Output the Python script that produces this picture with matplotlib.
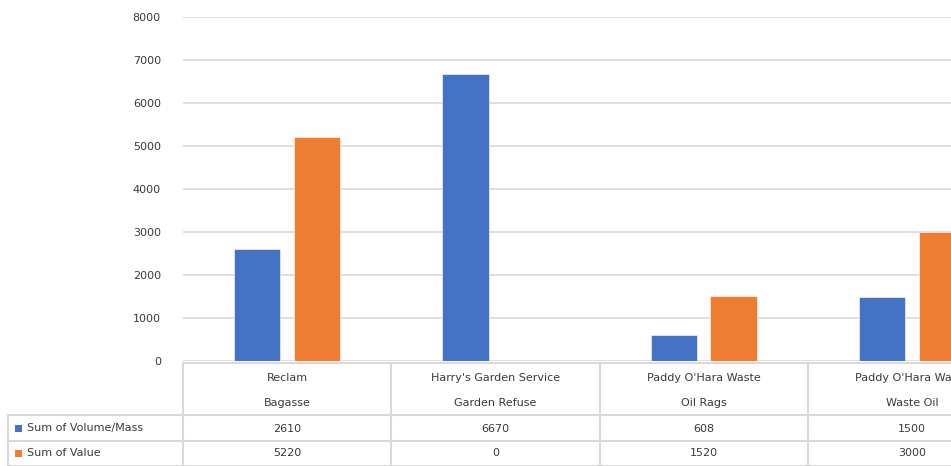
import matplotlib
matplotlib.use("Agg")
import matplotlib.pyplot as plt
import numpy as np

suppliers = ["Reclam", "Harry's Garden Service", "Paddy O'Hara Waste", "Paddy O'Hara Waste"]
materials = ["Bagasse", "Garden Refuse", "Oil Rags", "Waste Oil"]
series_names = ["Sum of Volume/Mass", "Sum of Value"]
volume_mass = [2610, 6670, 608, 1500]
value = [5220, 0, 1520, 3000]
y_ticks = [0, 1000, 2000, 3000, 4000, 5000, 6000, 7000, 8000]

BLUE = "#4472C4"
ORANGE = "#ED7D31"
GRID = "#D9D9D9"
TEXT = "#3A3A3A"
FONT = ["DejaVu Sans"]

W, H = 951, 466
fig = plt.figure(figsize=(W / 100, H / 100), dpi=100)
plt.rcParams["font.family"] = FONT

# plot area in pixels (it runs off the right edge, like the cropped original)
left_px, right_px = 183, 1016
top_px, base_px = 17, 361

ax = fig.add_axes([left_px / W, (H - base_px) / H,
                   (right_px - left_px) / W, (base_px - top_px) / H])
x = np.arange(len(materials))
bw = 0.222
off = 0.143
ax.bar(x - off, volume_mass, bw, color=BLUE, edgecolor="white", linewidth=0.4, zorder=3)
ax.bar(x + off, value, bw, color=ORANGE, edgecolor="white", linewidth=0.4, zorder=3)
ax.set_xlim(-0.5, len(materials) - 0.5)
ax.set_ylim(0, 8000)
ax.set_yticks(y_ticks)
ax.set_yticklabels([str(t) for t in y_ticks], fontsize=8, color=TEXT)
ax.tick_params(axis="y", length=0, pad=16)
ax.set_xticks([])
ax.grid(axis="y", color=GRID, linewidth=1.2, zorder=0)
for s in ax.spines.values():
    s.set_visible(False)

# data table underneath, y in pixel rows
tab = fig.add_axes([left_px / W, 0, (right_px - left_px) / W, (H - base_px) / H])
tab.set_xlim(-0.5, len(materials) - 0.5)
tab.set_ylim(H, base_px)
tab.axis("off")

px = (right_px - left_px) / len(materials)   # pixels per category
x_outer = -0.5 - (left_px - 8) / px          # left border of label column
lc = dict(color=GRID, linewidth=1.5, clip_on=False)

tab.plot([-0.5, len(materials) - 0.5], [362.5, 362.5], **lc)
for yy in [415, 441, 466]:
    tab.plot([x_outer, len(materials) - 0.5], [yy, yy], **lc)
tab.plot([x_outer, x_outer], [415, 466], **lc)
for k in range(len(materials) + 1):
    tab.plot([k - 0.5, k - 0.5], [362.5, 466], **lc)

fs = 8
for i in range(len(materials)):
    tab.text(i, 378, suppliers[i], ha="center", va="center", fontsize=fs, color=TEXT)
    tab.text(i, 403, materials[i], ha="center", va="center", fontsize=fs, color=TEXT)
    tab.text(i, 428.5, str(volume_mass[i]), ha="center", va="center", fontsize=fs, color=TEXT)
    tab.text(i, 453.5, str(value[i]), ha="center", va="center", fontsize=fs, color=TEXT)

sq = 7 / px
for name, yy, col in [(series_names[0], 428.5, BLUE), (series_names[1], 453.5, ORANGE)]:
    tab.add_patch(plt.Rectangle((x_outer + 7 / px, yy - 3.5), sq, 7,
                                facecolor=col, edgecolor="none", clip_on=False))
    tab.text(x_outer + 19 / px, yy, name, ha="left", va="center", fontsize=fs, color=TEXT)

fig.savefig("out.png", dpi=100)
